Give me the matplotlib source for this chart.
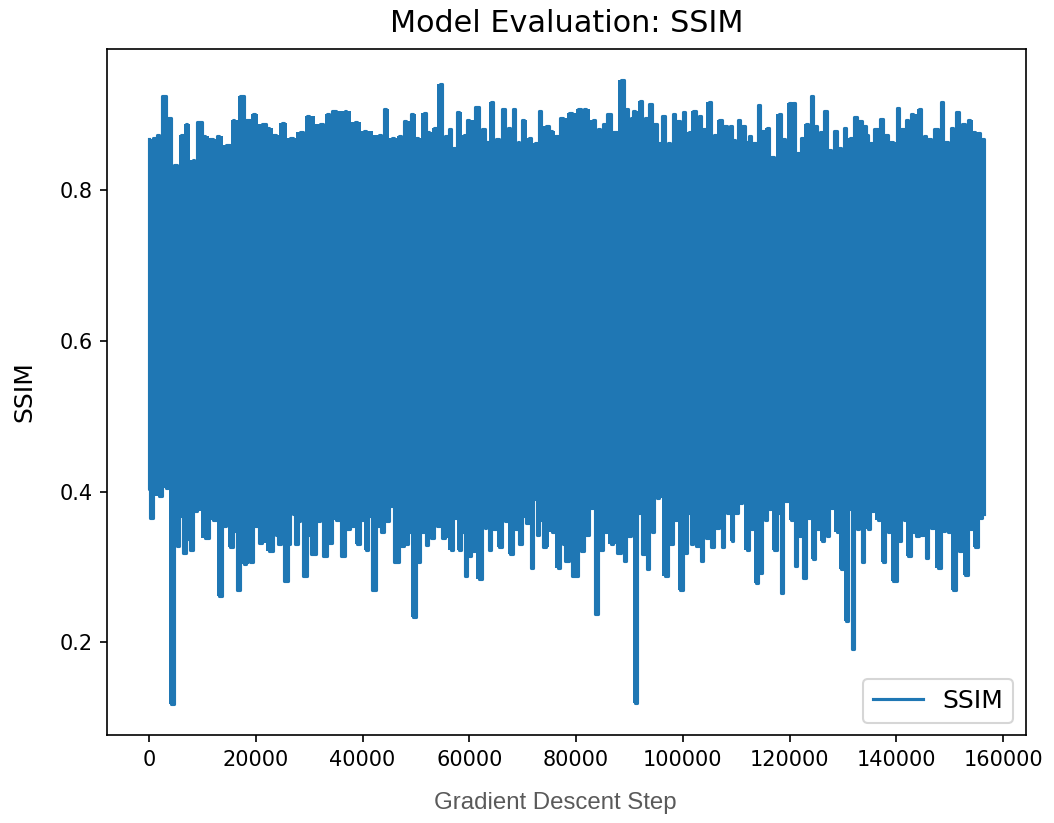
import numpy as np
import matplotlib
matplotlib.use('Agg')
import matplotlib.pyplot as plt

# upper edge of the SSIM trace (peaks)
top_steps = [0, 940, 1880, 3130, 3940, 5130, 6070, 7190, 8250, 9190, 10500, 11880, 13130, 14690,
             15950, 17380, 18440, 19700, 21260, 22510, 23760, 25010, 26580, 28450, 30010, 32200,
             33770, 34700, 36770, 38890, 40640, 43150, 44390, 45640, 47210, 48150, 49530, 50340,
             51590, 52530, 53470, 54530, 55650, 56590, 57220, 58030, 59090, 60030, 61600, 62660,
             63280, 64220, 65350, 66600, 67530, 68470, 69290, 70160, 71290, 72540, 73350, 74410,
             75350, 76600, 77540, 78920, 80980, 81920, 83170, 84420, 85360, 86290, 87230, 88480,
             89420, 90360, 90980, 92050, 93050, 93800, 94740, 95670, 96610, 97550, 98490, 99430,
             100360, 101180, 102050, 103050, 103800, 104930, 105990, 106810, 107870, 109120,
             109620, 110500, 111310, 111930, 112690, 113500, 114250, 115060, 115870, 116810,
             118000, 118810, 120060, 120810, 121630, 122250, 123310, 124250, 125070, 126000,
             126820, 127690, 128820, 129570, 130510, 131440, 132380, 133190, 134010, 134760,
             135380, 136320, 137260, 138200, 139130, 140570, 141320, 142070, 143200, 144450,
             145390, 146330, 147580, 148830, 149580, 150580, 151640, 152580, 153830, 154770,
             155710, 156460]
top_ssim = [0.868, 0.870, 0.874, 0.925, 0.896, 0.834, 0.874, 0.888, 0.841, 0.891, 0.872, 0.868,
            0.872, 0.861, 0.894, 0.926, 0.894, 0.901, 0.888, 0.883, 0.874, 0.890, 0.870, 0.877,
            0.899, 0.888, 0.901, 0.905, 0.905, 0.891, 0.879, 0.874, 0.908, 0.870, 0.872, 0.892,
            0.902, 0.870, 0.903, 0.877, 0.883, 0.941, 0.872, 0.881, 0.857, 0.904, 0.874, 0.893,
            0.911, 0.882, 0.865, 0.917, 0.868, 0.908, 0.883, 0.908, 0.865, 0.893, 0.870, 0.863,
            0.905, 0.886, 0.879, 0.872, 0.896, 0.903, 0.908, 0.908, 0.894, 0.881, 0.888, 0.901,
            0.877, 0.947, 0.908, 0.896, 0.905, 0.919, 0.896, 0.915, 0.888, 0.863, 0.899, 0.863,
            0.902, 0.892, 0.904, 0.877, 0.905, 0.899, 0.881, 0.917, 0.874, 0.894, 0.886, 0.886,
            0.867, 0.893, 0.885, 0.865, 0.872, 0.863, 0.914, 0.879, 0.883, 0.845, 0.901, 0.868,
            0.916, 0.916, 0.850, 0.870, 0.888, 0.925, 0.885, 0.877, 0.905, 0.854, 0.879, 0.857,
            0.883, 0.870, 0.898, 0.892, 0.885, 0.874, 0.863, 0.882, 0.895, 0.874, 0.865, 0.910,
            0.881, 0.894, 0.902, 0.908, 0.872, 0.868, 0.881, 0.917, 0.865, 0.883, 0.904, 0.888,
            0.893, 0.877, 0.876, 0.868]

# lower edge of the SSIM trace (troughs)
bottom_steps = [0, 500, 1880, 3130, 4380, 5300, 5940, 6570, 7190, 8130, 8750, 10630, 12190, 13130,
                14250, 15510, 15950, 16880, 18010, 19260, 20000, 21130, 22510, 23760, 24390, 24890,
                25640, 26390, 27200, 27630, 28260, 29260, 30010, 30760, 31890, 32830, 33770, 35330,
                36580, 37200, 38140, 39080, 40010, 40640, 41270, 42210, 42830, 43770, 44520, 45460,
                46270, 47210, 48150, 48780, 49530, 50340, 51280, 52030, 52530, 53150, 54400, 55340,
                56590, 57340, 58160, 58780, 59280, 60030, 60660, 61910, 63030, 63910, 64720, 65660,
                66780, 67850, 68790, 69410, 70350, 70970, 71790, 72220, 72850, 73480, 74290, 75660,
                76600, 77540, 78480, 79730, 80980, 81920, 83040, 83980, 84730, 85360, 86610, 88170,
                89300, 90170, 91110, 91800, 92670, 93670, 94550, 95420, 96740, 97670, 98550, 99550,
                100550, 101050, 101930, 102870, 103680, 104740, 105680, 106620, 107680, 108500,
                109310, 110060, 110810, 111930, 112870, 113810, 114750, 115690, 116310, 117250,
                117870, 118620, 119560, 120380, 121310, 121940, 122690, 123690, 124440, 125380,
                126190, 127070, 127880, 128820, 129760, 130570, 131320, 131940, 132880, 133820,
                134760, 135380, 136630, 137570, 138510, 139570, 140570, 141450, 142260, 143200,
                144140, 144950, 145700, 146640, 147890, 148830, 149770, 150830, 151950, 153200,
                153950, 154770, 155710, 156460]
bottom_ssim = [0.403, 0.365, 0.394, 0.405, 0.118, 0.328, 0.368, 0.319, 0.337, 0.323, 0.374, 0.339,
               0.363, 0.261, 0.355, 0.326, 0.348, 0.270, 0.304, 0.306, 0.354, 0.332, 0.321, 0.343,
               0.330, 0.359, 0.281, 0.330, 0.370, 0.330, 0.361, 0.288, 0.343, 0.317, 0.361, 0.315,
               0.332, 0.363, 0.315, 0.350, 0.354, 0.330, 0.363, 0.323, 0.368, 0.270, 0.354, 0.346,
               0.361, 0.381, 0.306, 0.328, 0.330, 0.346, 0.233, 0.306, 0.346, 0.329, 0.379, 0.339,
               0.354, 0.339, 0.323, 0.365, 0.323, 0.346, 0.288, 0.315, 0.321, 0.284, 0.352, 0.323,
               0.350, 0.326, 0.361, 0.317, 0.350, 0.330, 0.368, 0.359, 0.299, 0.390, 0.343, 0.363,
               0.326, 0.346, 0.299, 0.330, 0.308, 0.288, 0.321, 0.343, 0.379, 0.237, 0.323, 0.346,
               0.330, 0.319, 0.308, 0.341, 0.120, 0.372, 0.317, 0.297, 0.346, 0.391, 0.288, 0.330,
               0.363, 0.270, 0.319, 0.372, 0.330, 0.328, 0.308, 0.339, 0.326, 0.352, 0.326, 0.372,
               0.334, 0.372, 0.385, 0.323, 0.350, 0.279, 0.292, 0.363, 0.377, 0.323, 0.372, 0.266,
               0.388, 0.363, 0.301, 0.341, 0.286, 0.365, 0.310, 0.350, 0.334, 0.341, 0.379, 0.346,
               0.297, 0.228, 0.377, 0.191, 0.350, 0.306, 0.350, 0.374, 0.363, 0.306, 0.346, 0.281,
               0.334, 0.363, 0.315, 0.346, 0.341, 0.343, 0.312, 0.352, 0.299, 0.348, 0.346, 0.270,
               0.321, 0.290, 0.350, 0.326, 0.365, 0.370]

top_steps = np.array(top_steps)
top_ssim = np.array(top_ssim)
bottom_steps = np.array(bottom_steps)
bottom_ssim = np.array(bottom_ssim)

# trace jumps between the two edges, in step order
steps = np.concatenate([top_steps, bottom_steps])
ssim = np.concatenate([top_ssim, bottom_ssim])
order = np.argsort(steps, kind='stable')
steps, ssim = steps[order], ssim[order]

fig = plt.figure(figsize=(1054 / 150, 823 / 150), dpi=150)
ax = fig.add_axes([0.1018, 0.1066, 0.8716, 0.8344])

# the dense trace reads as a solid band; both halves meet at 0.6
ax.fill_between(top_steps, 0.6, top_ssim, step='mid', color='C0', linewidth=0)
ax.fill_between(bottom_steps, bottom_ssim, 0.6, step='mid', color='C0', linewidth=0)
ax.plot(steps, ssim, color='C0', drawstyle='steps-mid', label='SSIM')

ax.set_title('Model Evaluation: SSIM', fontsize=14.5, pad=8)
ax.set_ylabel('SSIM', fontsize=12)
ax.yaxis.set_label_coords(-0.077, 0.5)
ax.set_xlabel('Gradient Descent Step', family=['Liberation Sans Narrow', 'Liberation Sans'],
              color='#5a5a5a', fontsize=11.5)
ax.xaxis.set_label_coords(0.488, -0.082)
ax.legend(loc='lower right', fontsize=12)

fig.savefig('out.png', dpi=150)
